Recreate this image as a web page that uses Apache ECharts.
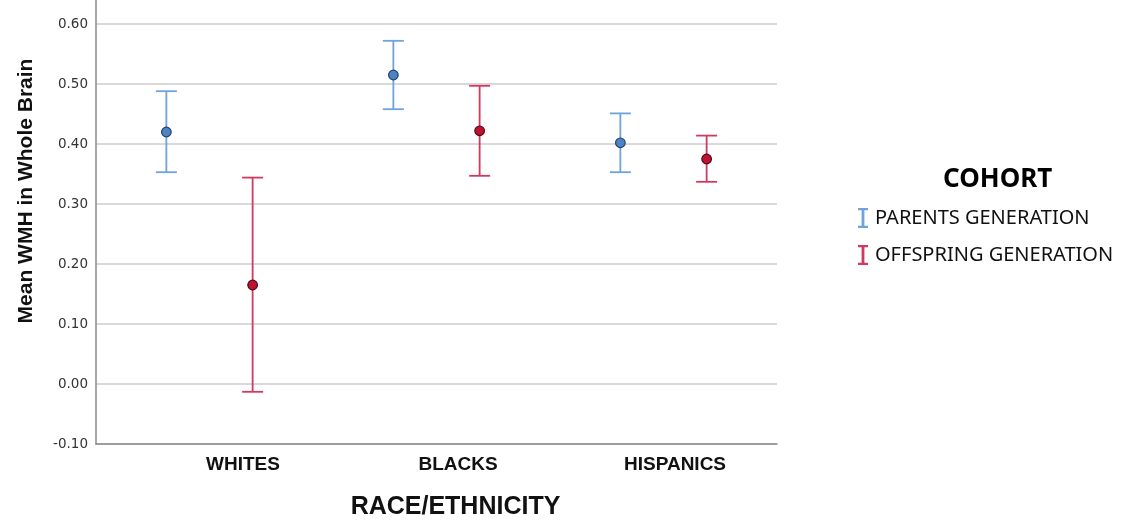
<!DOCTYPE html>
<html>
<head>
<meta charset="utf-8">
<script src="https://cdn.jsdelivr.net/npm/echarts@6/dist/echarts.min.js"></script>
<style>html,body{margin:0;padding:0;background:#fff;}#chart{width:1138px;height:532px;}</style>
</head>
<body>
<div id="chart"></div>
<script>
var categories = ['WHITES', 'BLACKS', 'HISPANICS'];
var seriesNames = ['PARENTS GENERATION', 'OFFSPRING GENERATION'];
var parentsMean = [0.420, 0.515, 0.402];
var parentsLow = [0.353, 0.458, 0.353];
var parentsHigh = [0.488, 0.572, 0.451];
var offspringMean = [0.165, 0.422, 0.375];
var offspringLow = [-0.013, 0.347, 0.337];
var offspringHigh = [0.344, 0.497, 0.414];
var yTicks = [-0.1, 0.0, 0.1, 0.2, 0.3, 0.4, 0.5, 0.6];

var lineColors = ['#6fa3d9', '#cf3a5e'];
var fillColors = ['#4d82c4', '#c2102f'];
var edgeColors = ['#23426b', '#4c0a17'];

function buildData(mean, low, high) {
  return categories.map(function (c, i) { return [i, mean[i], low[i], high[i]]; });
}

function makeRender(sIdx) {
  return function (params, api) {
    var ci = api.value(0);
    var band = api.size([1, 0])[0];
    var off = band * 0.19 * (sIdx === 0 ? -1 : 1);
    var pm = api.coord([ci, api.value(1)]);
    var pl = api.coord([ci, api.value(2)]);
    var ph = api.coord([ci, api.value(3)]);
    var x = pm[0] + off;
    var cap = 10.5;
    var ls = { stroke: lineColors[sIdx], lineWidth: 1.8 };
    return {
      type: 'group',
      children: [
        { type: 'line', shape: { x1: x, y1: ph[1], x2: x, y2: pl[1] }, style: ls },
        { type: 'line', shape: { x1: x - cap, y1: ph[1], x2: x + cap, y2: ph[1] }, style: ls },
        { type: 'line', shape: { x1: x - cap, y1: pl[1], x2: x + cap, y2: pl[1] }, style: ls },
        { type: 'circle', shape: { cx: x, cy: pm[1], r: 4.8 }, style: { fill: fillColors[sIdx], stroke: edgeColors[sIdx], lineWidth: 1.2 } }
      ]
    };
  };
}

var iconPath = 'path://M0,0h10v2.2h-3.6v15.6h3.6v2.2h-10v-2.2h3.6v-15.6h-3.6z';
var labelFont = { fontFamily: 'Liberation Sans', fontWeight: 'bold', fontSize: 19, color: '#111' };
var rich = {
  l0: Object.assign({ padding: [0, 0, 0, 67] }, labelFont),
  l1: Object.assign({ padding: [0, 0, 0, 43] }, labelFont),
  l2: Object.assign({ padding: [0, 0, 0, 23] }, labelFont)
};

var chart = echarts.init(document.getElementById('chart'));
chart.setOption({
  animation: false,
  backgroundColor: '#ffffff',
  grid: { left: 96, top: 0, width: 681, bottom: 88 },
  title: {
    text: 'COHORT', left: 938, top: 162,
    textStyle: { fontFamily: 'Noto Sans', fontWeight: 'bold', fontSize: 26, color: '#000' }
  },
  legend: {
    orient: 'vertical', left: 853, top: 203, itemGap: 17,
    itemWidth: 10, itemHeight: 24,
    icon: iconPath,
    textStyle: { fontFamily: 'Noto Sans', fontSize: 20, color: '#111', padding: [0, 0, 0, 2] },
    data: [
      { name: seriesNames[0], itemStyle: { color: lineColors[0] } },
      { name: seriesNames[1], itemStyle: { color: lineColors[1] } }
    ]
  },
  xAxis: {
    type: 'category', data: categories,
    axisLine: { show: true, onZero: false, lineStyle: { color: '#8a8a8a', width: 1.5 } },
    axisTick: { show: false },
    axisLabel: {
      margin: 11, rich: rich,
      formatter: function (v, i) { return '{l' + i + '|' + v + '}'; }
    },
    name: 'RACE/ETHNICITY', nameLocation: 'middle', nameGap: 51,
    nameTextStyle: { fontFamily: 'Liberation Sans', fontWeight: 'bold', fontSize: 25, color: '#111', padding: [0, 0, 0, 38] }
  },
  yAxis: {
    type: 'value', min: -0.1, max: 0.64, interval: 0.1,
    axisLine: { show: true, lineStyle: { color: '#8a8a8a', width: 1.5 } },
    axisTick: { show: false },
    axisLabel: {
      showMaxLabel: false, margin: 8, fontFamily: 'DejaVu Sans', fontSize: 13.5, color: '#333',
      formatter: function (v) { return v.toFixed(2); }
    },
    splitLine: { show: true, showMaxLine: false, lineStyle: { color: '#cccccc', width: 1.5 } }
  },
  graphic: [{
    type: 'text', x: 26, y: 191, rotation: Math.PI / 2,
    style: { text: 'Mean WMH in Whole Brain', fontFamily: 'Liberation Sans', fontWeight: 'bold', fontSize: 21, fill: '#111', align: 'center', verticalAlign: 'middle' }
  }],
  series: [
    { name: seriesNames[0], type: 'custom', renderItem: makeRender(0), itemStyle: { color: lineColors[0] }, data: buildData(parentsMean, parentsLow, parentsHigh), encode: { x: 0, y: [1, 2, 3] }, z: 3 },
    { name: seriesNames[1], type: 'custom', renderItem: makeRender(1), itemStyle: { color: lineColors[1] }, data: buildData(offspringMean, offspringLow, offspringHigh), encode: { x: 0, y: [1, 2, 3] }, z: 3 }
  ]
});
</script>
</body>
</html>
